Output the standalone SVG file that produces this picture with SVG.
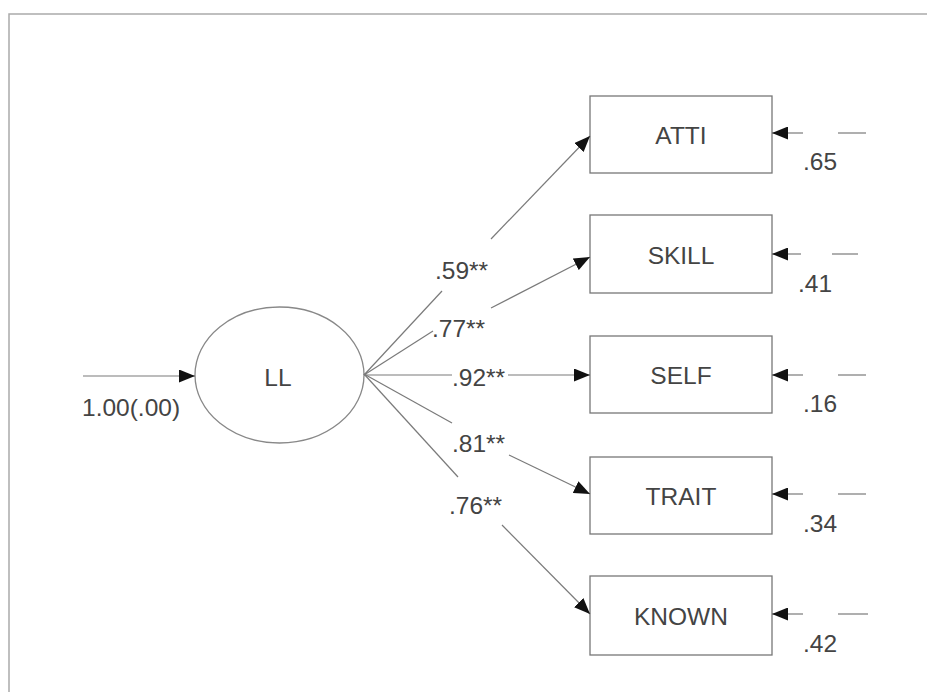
<svg xmlns="http://www.w3.org/2000/svg" width="927" height="692" viewBox="0 0 927 692">
<style>
  .txt { font-family: "Liberation Sans", Arial, sans-serif; font-size: 24.5px; fill: #444; }
  .mid { text-anchor: middle; }
  .box { fill: #fff; stroke: #777; stroke-width: 1.3; }
  .conn line { stroke: #7a7a7a; stroke-width: 1.2; }
  .frame { stroke: #aaa; stroke-width: 1.5; fill: none; }
</style>
<defs>
  <marker id="ah" markerUnits="userSpaceOnUse" markerWidth="16" markerHeight="13" refX="16" refY="6.5" orient="auto">
    <path d="M0,0 L16,6.5 L0,13 z" fill="#111"/>
  </marker>
</defs>
<rect x="0" y="0" width="927" height="692" fill="#fff"/>
<path class="frame" d="M927,14 L9,14 L9,692"/>

<g id="LL">
  <ellipse cx="279.5" cy="375" rx="84.5" ry="68" fill="#fff" stroke="#888" stroke-width="1.3"/>
  <text class="txt mid" x="278" y="386">LL</text>
</g>
<g id="ATTI">
  <rect class="box" x="590" y="96" width="182" height="77"/>
  <text class="txt mid" x="681" y="144">ATTI</text>
</g>
<g id="SKILL">
  <rect class="box" x="590" y="215" width="182" height="78"/>
  <text class="txt mid" x="681" y="264">SKILL</text>
</g>
<g id="SELF">
  <rect class="box" x="590" y="336" width="182" height="77"/>
  <text class="txt mid" x="681" y="384">SELF</text>
</g>
<g id="TRAIT">
  <rect class="box" x="590" y="457" width="182" height="77"/>
  <text class="txt mid" x="681" y="505">TRAIT</text>
</g>
<g id="KNOWN">
  <rect class="box" x="590" y="576" width="182" height="79"/>
  <text class="txt mid" x="681" y="625">KNOWN</text>
</g>

<g id="connectors" class="conn">
  <line x1="83" y1="376" x2="195" y2="376" marker-end="url(#ah)"/>
  <!-- ATTI -->
  <line x1="364" y1="375" x2="442" y2="291"/>
  <line x1="491" y1="239" x2="590" y2="136" marker-end="url(#ah)"/>
  <!-- SKILL -->
  <line x1="364" y1="375" x2="433" y2="331"/>
  <line x1="491" y1="308" x2="590" y2="257" marker-end="url(#ah)"/>
  <!-- SELF -->
  <line x1="364" y1="375" x2="452" y2="375"/>
  <line x1="508" y1="375" x2="590" y2="375" marker-end="url(#ah)"/>
  <!-- TRAIT -->
  <line x1="364" y1="374" x2="452" y2="423"/>
  <line x1="509" y1="455" x2="590" y2="494" marker-end="url(#ah)"/>
  <!-- KNOWN -->
  <line x1="364" y1="374" x2="458" y2="477"/>
  <line x1="502" y1="525" x2="590" y2="614" marker-end="url(#ah)"/>
  <!-- error terms -->
  <line x1="803" y1="133" x2="772" y2="133" marker-end="url(#ah)"/>
  <line x1="838" y1="133" x2="866" y2="133"/>
  <line x1="801" y1="254" x2="772" y2="254" marker-end="url(#ah)"/>
  <line x1="832" y1="254" x2="858" y2="254"/>
  <line x1="803" y1="375" x2="772" y2="375" marker-end="url(#ah)"/>
  <line x1="838" y1="375" x2="866" y2="375"/>
  <line x1="803" y1="494" x2="772" y2="494" marker-end="url(#ah)"/>
  <line x1="838" y1="494" x2="866" y2="494"/>
  <line x1="803" y1="614" x2="772" y2="614" marker-end="url(#ah)"/>
  <line x1="838" y1="614" x2="868" y2="614"/>
</g>

<g id="labels">
  <text class="txt" x="82" y="416">1.00(.00)</text>
  <text class="txt" x="435" y="279">.59**</text>
  <text class="txt" x="432" y="337">.77**</text>
  <text class="txt" x="452" y="386">.92**</text>
  <text class="txt" x="452" y="452">.81**</text>
  <text class="txt" x="449" y="514">.76**</text>
  <text class="txt" x="803" y="170">.65</text>
  <text class="txt" x="798" y="292">.41</text>
  <text class="txt" x="803" y="412">.16</text>
  <text class="txt" x="803" y="532">.34</text>
  <text class="txt" x="803" y="652">.42</text>
</g>
</svg>
